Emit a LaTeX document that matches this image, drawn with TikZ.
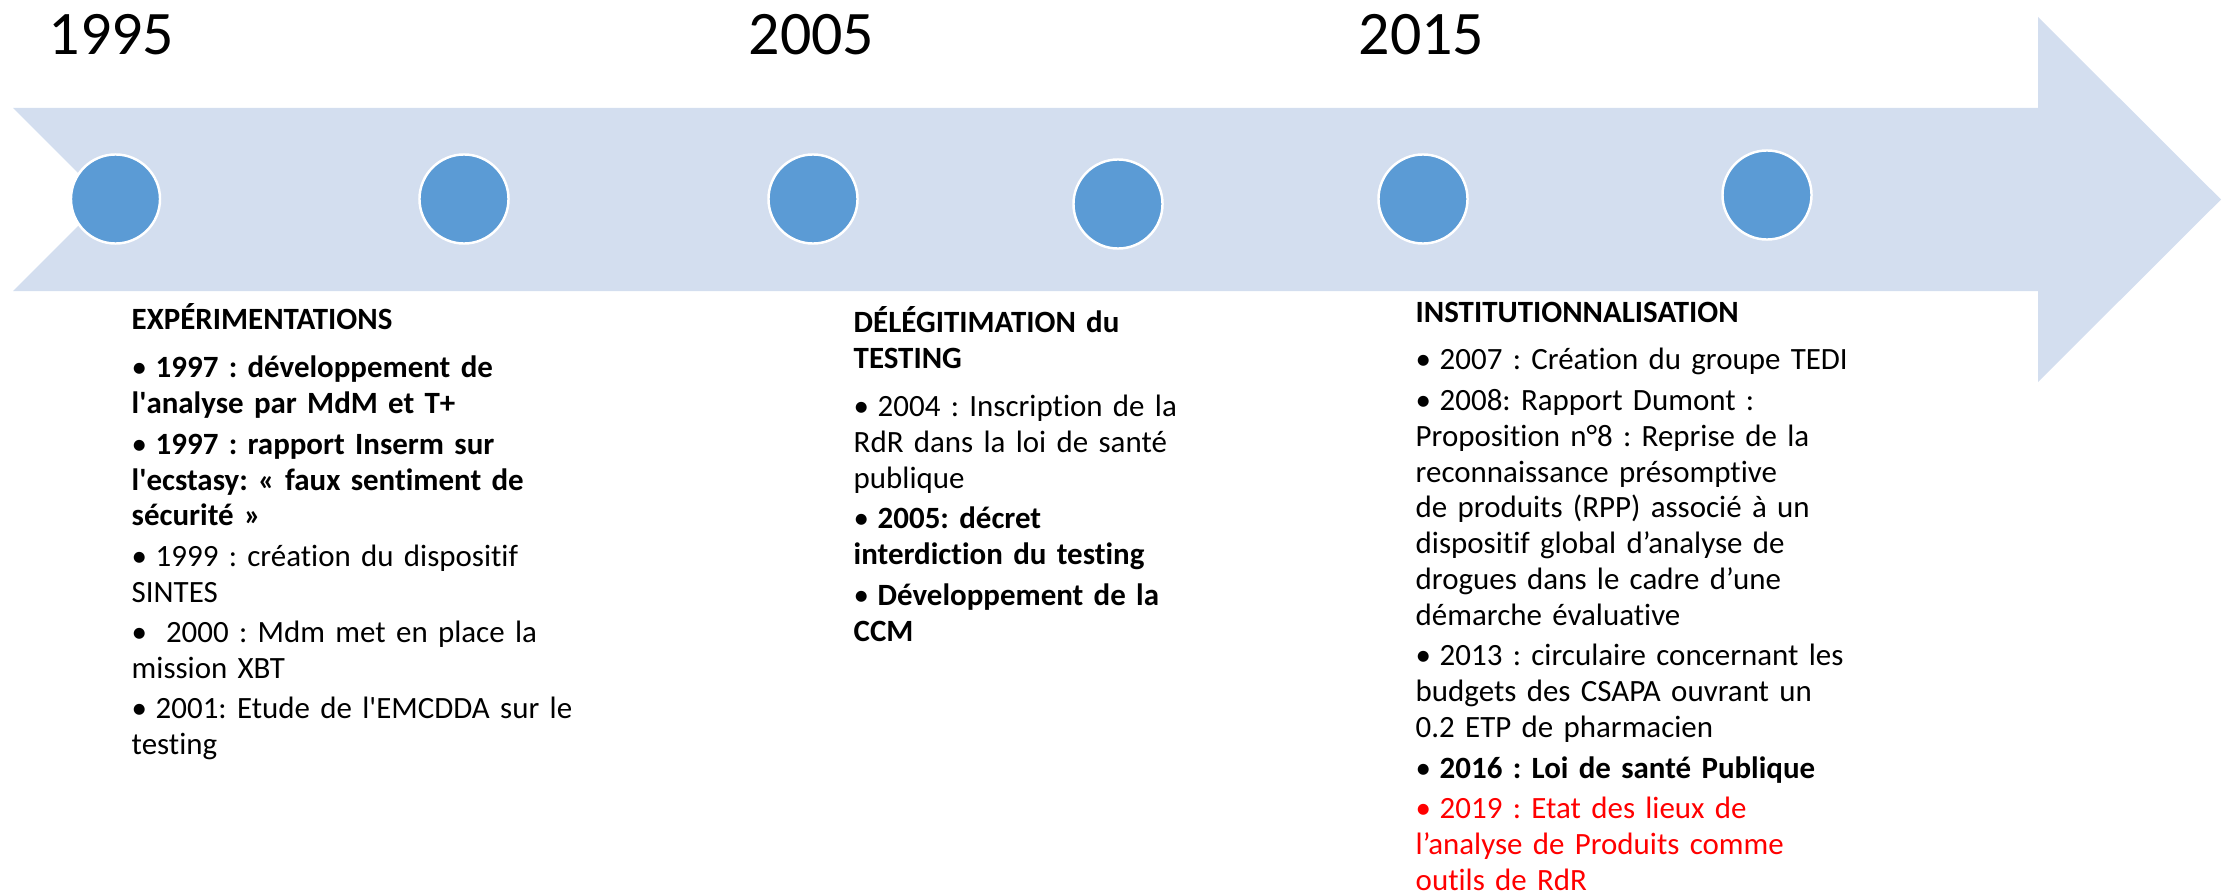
\documentclass[tikz,border=0pt]{standalone}
\usepackage{fontspec}
\setmainfont{Carlito}[Ligatures={TeX,NoCommon,NoContextual}, Contextuals=NoAlternate]
\usepackage{xcolor}
\usetikzlibrary{positioning}
\definecolor{fond}{HTML}{D3DEEF}
\definecolor{rondbleu}{HTML}{5B9BD5}
\setlength{\parindent}{0pt}
\frenchspacing
\newlength{\retrait}
\setlength{\retrait}{0.24cm}
\def\puce{\par\vspace{1.3pt}\hangindent=\retrait\hangafter=1\noindent\makebox[\retrait][l]{\textbullet}}
\def\titre#1{\textbf{#1}\par\vspace{2.1pt}}
\tikzset{
  annee/.style={anchor=base west, inner sep=0, font=\fontsize{17.6pt}{20pt}\selectfont},
  bloc/.style={anchor=base west, inner sep=0, text width=5cm, align=left, font=\fontsize{8.8pt}{10.2pt}\selectfont},
  rond/.style={circle, fill=rondbleu, draw=white, line width=0.7pt, minimum size=0.89cm, inner sep=0}
}

\begin{document}
\begin{tikzpicture}[x=0.01cm, y=-0.01cm]
\useasboundingbox (0,0) rectangle (2233,891);

\fill[fond] (13,108) -- (2038,108) -- (2038,17) -- (2221,199.5) -- (2038,382) -- (2038,291) -- (13,291) -- (104.5,199.5) -- cycle;

\foreach \x/\y [count=\i] in {115.5/199, 464/199, 813/199, 1118/204, 1423/199, 1767/195}
  \node[rond] (rond\i) at (\x,\y) {};

\node[annee] (a1995) at (48,55) {1995};
\node[annee] (a2005) at (748,55) {2005};
\node[annee] (a2015) at (1358,55) {2015};

\node[bloc] (experim) at (131,330) {\titre{EXPÉRIMENTATIONS}%
\puce\textbf{1997 : développement de\\ l\textquotesingle analyse par MdM et T+}
\puce\textbf{1997 : rapport Inserm sur\\ l\textquotesingle ecstasy: « faux sentiment de\\ sécurité »}
\puce 1999 : création du dispositif\\ SINTES
\puce\ 2000 : Mdm met en place la\\ mission XBT
\puce 2001: Etude de l\textquotesingle EMCDDA sur le\\ testing};

\node[bloc] (delegit) at (853,333) {\textbf{DÉLÉGITIMATION du\\ TESTING}\par\vspace{2.1pt}%
\puce 2004 : Inscription de la\\ RdR dans la loi de santé\\ publique
\puce\textbf{2005: décret\\ interdiction du testing}
\puce\textbf{Développement de la\\ CCM}};

\node[bloc] (instit) at (1415,322) {\titre{INSTITUTIONNALISATION}%
\puce 2007 : Création du groupe TEDI
\puce 2008: Rapport Dumont :\\ Proposition n°8 : Reprise de la\\ reconnaissance présomptive\\ de produits (RPP) associé à un\\ dispositif global d’analyse de\\ drogues dans le cadre d’une\\ démarche évaluative
\puce 2013 : circulaire concernant les\\ budgets des CSAPA ouvrant un\\ 0.2 ETP de pharmacien
\puce\textbf{2016 : Loi de santé Publique}
\color{red}\puce 2019 : Etat des lieux de\\ l’analyse de Produits comme\\ outils de RdR};
\end{tikzpicture}
\end{document}
